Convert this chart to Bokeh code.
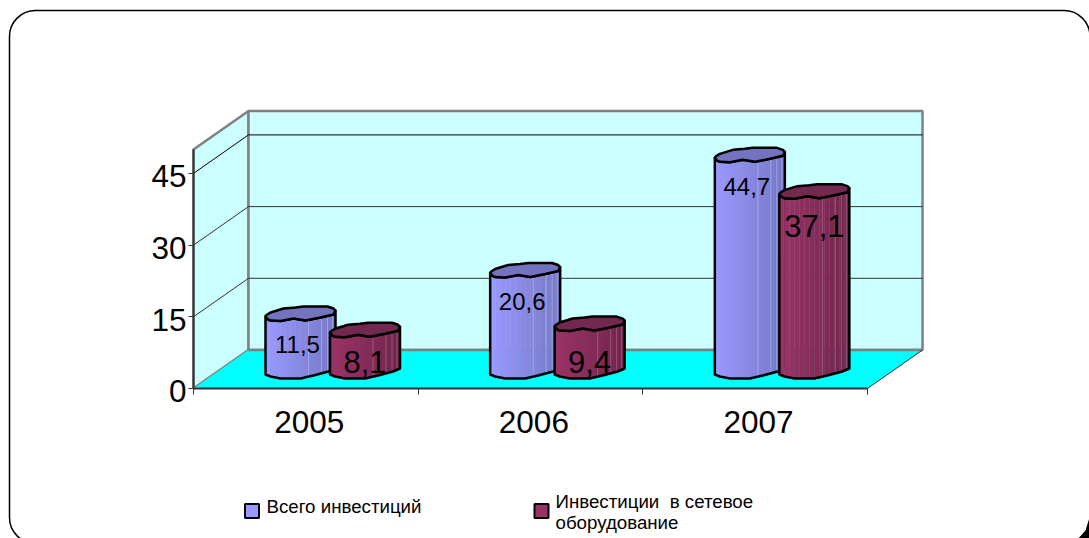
import numpy as np
from bokeh.embed import file_html
from bokeh.resources import INLINE
from bokeh.plotting import figure
from bokeh.core.properties import value
from bokeh.models import Range1d, FixedTicker, BoxAnnotation, ColumnDataSource

categories = ["2005", "2006", "2007"]
total_invest = [11.5, 20.6, 44.7]
network_invest = [8.1, 9.4, 37.1]
y_ticks = [0, 15, 30, 45]
y_max = 50
legend_labels = ["Всего инвестиций", "Инвестиции\u00a0 в сетевое", "оборудование"]

FONT = value("Liberation Sans")
# scale of the drawing: screen pixels per data unit and origin of the front axes
PX_X, PX_Y, X0, Y0 = 224.67, 4.78, 193.0, 388.0
W, H = 1089, 538
def X(px): return (np.asarray(px, dtype=float) - X0) / PX_X
def Y(py): return (Y0 - np.asarray(py, dtype=float)) / PX_Y

p = figure(width=W, height=H, output_backend="svg", toolbar_location=None,
           x_range=Range1d(float(X(0)), float(X(W))),
           y_range=Range1d(float(Y(H)), float(Y(0))),
           min_border=0, min_border_left=0, min_border_right=0,
           min_border_top=0, min_border_bottom=0, outline_line_color=None,
           background_fill_color="white", border_fill_color="white")
p.grid.visible = False

# 3D box
dep_x, dep_y = 55 / PX_X, 38.5 / PX_Y
n = len(categories)
WALL, FLOOR, GREY = "#CCFFFF", "#00FFFF", "#808080"
p.patch([0, dep_x, dep_x, 0], [0, dep_y, y_max + dep_y, y_max], fill_color=WALL, line_color=GREY, line_width=2.5)
p.patch([dep_x, n + dep_x, n + dep_x, dep_x], [dep_y, dep_y, y_max + dep_y, y_max + dep_y],
        fill_color=WALL, line_color=GREY, line_width=2.5)
p.patch([0, n, n + dep_x, dep_x], [0, 0, dep_y, dep_y], fill_color=FLOOR, line_color=None)
for t in y_ticks[1:]:
    c = "#000000" if t == 45 else "#333333"
    p.line([0, dep_x, n + dep_x], [t, t + dep_y, t + dep_y], line_color=c, line_width=1)
p.line([dep_x, n + dep_x], [dep_y, dep_y], line_color=GREY, line_width=2.5)
p.line([n, n + dep_x], [0, dep_y], line_color="#333333", line_width=1)

# wobbly cylinder outline, pixel offsets around the bar centre
top_back = np.array([(-35, 3), (-34, 1.5), (-30, -1), (-17, -5), (-5, -6), (3, -7), (27, -7), (33, -5), (35, -3)], float)
top_front = np.array([(-35, 3), (-33, 5.5), (-30, 7), (-20, 7.5), (-7, 5), (5, 7), (20, 4), (33, 1), (35, -3)], float)
bottom = np.array([(-35, 6), (-30, 8), (-20, 10), (0, 10), (13, 7), (28, 3), (35, 0)], float)
base = float(Y(368))

def lerp(a, b, t):
    a = np.array([int(a[i:i+2], 16) for i in (1, 3, 5)], float)
    b = np.array([int(b[i:i+2], 16) for i in (1, 3, 5)], float)
    return "#%02x%02x%02x" % tuple(int(v) for v in a + (b - a) * t)

def cylinder(cx_cat, val, left, right, top_col, light):
    cx = X0 + cx_cat * PX_X
    edges = np.linspace(-35, 35, 15)
    ytop = lambda d: base + val - np.interp(d, top_front[:, 0], top_front[:, 1]) / PX_Y
    ybot = lambda d: base - np.interp(d, bottom[:, 0], bottom[:, 1]) / PX_Y
    xs, ys, cols = [], [], []
    for i in range(len(edges) - 1):
        a, b = edges[i], edges[i + 1]
        xs.append(list(X(cx + np.array([a, b + 0.4, b + 0.4, a]))))
        ys.append([float(ytop(a)), float(ytop(b)), float(ybot(b)), float(ybot(a))])
        cols.append(lerp(left, right, i / (len(edges) - 2)))
    p.patches(xs, ys, fill_color=cols, line_color=None)
    for d in (8, 21, 27, 32):
        p.line(list(X([cx + d, cx + d])), [float(ytop(d)), float(ybot(d))], line_color=light, line_alpha=0.45, line_width=1)
    ox = np.r_[top_front[:, 0], bottom[::-1, 0]]
    oy = np.r_[base + val - top_front[:, 1] / PX_Y, base - bottom[::-1, 1] / PX_Y]
    p.patch(list(X(cx + ox)), list(oy), fill_color=None, line_color="#000000", line_width=2.5, line_join="round")
    tx = np.r_[top_back[:, 0], top_front[::-1, 0]]
    ty = np.r_[base + val - top_back[:, 1] / PX_Y, base + val - top_front[::-1, 1] / PX_Y]
    p.patch(list(X(cx + tx)), list(ty), fill_color=top_col, line_color="#000000", line_width=2.5, line_join="round")

S1 = ("#9999FF", "#7878C6", "#7373BF", "#B8D8FF")
S2 = ("#993366", "#72264C", "#732850", "#C888A8")
off1, off2 = 107 / PX_X, 171.5 / PX_X
for i in range(n):
    cylinder(i + off1, total_invest[i], *S1)
    cylinder(i + off2, network_invest[i], *S2)

# value labels
fmt = lambda v: str(v).replace(".", ",")
cats = np.arange(n)
lab1 = ColumnDataSource(dict(x=cats + off1, y=base + np.array(total_invest), t=[fmt(v) for v in total_invest],
                             o=[31, 31, 32]))
lab2 = ColumnDataSource(dict(x=cats + off2, y=base + np.array(network_invest), t=[fmt(v) for v in network_invest],
                             o=[32, 38, 35]))
p.text("x", "y", "t", source=lab1, text_font=FONT, text_font_size="24px", text_color="#000000",
       text_align="center", text_baseline="alphabetic", x_offset=-3, y_offset="o")
p.text("x", "y", "t", source=lab2, text_font=FONT, text_font_size="31px", text_color="#000000",
       text_align="center", text_baseline="alphabetic", y_offset="o")

# axes
ya = p.yaxis[0]
ya.fixed_location = 0
ya.bounds = (0, y_max)
y_label_pos = [t - 0.6 for t in y_ticks]
ya.ticker = FixedTicker(ticks=y_label_pos, minor_ticks=y_ticks)
ya.major_label_overrides = {lp: str(t) for lp, t in zip(y_label_pos, y_ticks)}
ya.axis_line_color = "#333333"
ya.axis_line_width = 2
ya.major_tick_in = 0
ya.major_tick_out = 0
ya.minor_tick_in = 0
ya.minor_tick_out = 5
ya.minor_tick_line_color = "#333333"
ya.major_label_standoff = 2
ya.major_label_text_font = "Liberation Sans"
ya.major_label_text_font_size = "31.5px"
ya.major_label_text_color = "#000000"

xa = p.xaxis[0]
xa.fixed_location = 0
xa.bounds = (0, n)
label_pos = [i + 0.515 for i in range(n)]
xa.ticker = FixedTicker(ticks=label_pos, minor_ticks=list(range(n + 1)))
xa.major_label_overrides = {t: c for t, c in zip(label_pos, categories)}
xa.axis_line_color = "#333333"
xa.axis_line_width = 2
xa.major_tick_in = 0
xa.major_tick_out = 0
xa.minor_tick_in = 0
xa.minor_tick_out = 6
xa.minor_tick_line_color = "#333333"
xa.major_label_standoff = 16
xa.major_label_text_font = "Liberation Sans"
xa.major_label_text_font_size = "31.5px"
xa.major_label_text_color = "#000000"

# legend
for px, col in ((251.5, "#9999FF"), (541, "#993366")):
    p.rect([float(X(px))], [float(Y(510.5))], width=14, height=14, width_units="screen", height_units="screen",
           fill_color=col, line_color="#000000", line_width=2)
for px, py, t in ((266, 505.5, legend_labels[0]), (555, 500.5, legend_labels[1]), (555, 521.5, legend_labels[2])):
    p.text([float(X(px))], [float(Y(py))], [t], text_font=FONT, text_font_size="18.7px", text_color="#000000",
           text_align="left", text_baseline="alphabetic")

# rounded slide frame and its corner
p.add_layout(BoxAnnotation(left=float(X(9)), right=float(X(1089.5)), top=float(Y(10)), bottom=float(Y(543)),
                           fill_alpha=0, line_color="#000000", line_alpha=1, line_width=1.5, border_radius=26))
p.patch(list(X([1089, 1089, 1078, 1085])), list(Y([517, 538, 538, 530])), fill_color="#000000", line_color=None)

open("out.html", "w").write(file_html(p, INLINE))
